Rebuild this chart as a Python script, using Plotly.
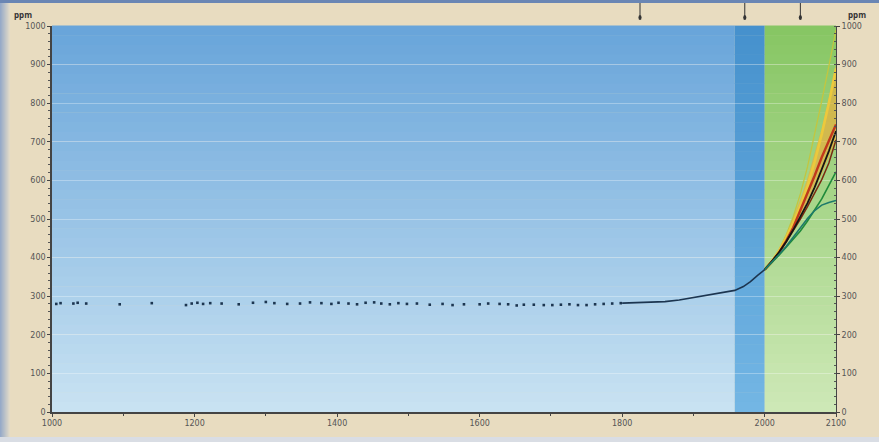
import plotly.graph_objects as go

# ---------------- data ----------------
ice_years = [1006, 1012, 1030, 1036, 1048, 1095, 1140, 1188, 1196, 1204, 1212, 1222, 1238, 1262,
             1282, 1300, 1312, 1330, 1348, 1362, 1378, 1392, 1402, 1416, 1428, 1440, 1452, 1462,
             1474, 1486, 1498, 1512, 1530, 1548, 1562, 1578, 1600, 1612, 1628, 1640, 1652, 1662,
             1676, 1690, 1702, 1714, 1726, 1738, 1750, 1762, 1774, 1786, 1798]
ice_co2 = [280, 282, 281, 283, 281, 279, 282, 277, 281, 283, 280, 282, 281, 279,
           283, 285, 282, 280, 281, 284, 282, 280, 283, 281, 279, 283, 284, 281,
           279, 282, 280, 281, 278, 280, 277, 279, 279, 281, 280, 279, 276, 278,
           278, 277, 277, 278, 279, 277, 277, 279, 280, 281, 282]

hist_years = [1800, 1820, 1840, 1860, 1880, 1900, 1920, 1940, 1958, 1970, 1980, 1990, 2000]
hist_co2 = [282, 283, 284, 286, 290, 296, 303, 310, 315, 325, 338, 354, 369]

scen_years = [2000, 2010, 2020, 2030, 2040, 2050, 2060, 2070, 2080, 2090, 2100]
scen_A1FI = [369, 391, 420, 458, 506, 565, 635, 718, 806, 896, 990]
scen_A2 = [369, 390, 417, 451, 490, 534, 585, 648, 720, 800, 890]
scen_A1B = [369, 389, 412, 443, 478, 522, 565, 612, 660, 705, 745]
scen_IS92a = [369, 390, 414, 441, 472, 505, 541, 582, 628, 676, 728]
scen_A1T = [369, 390, 413, 440, 469, 500, 532, 566, 602, 645, 705]
scen_B2 = [369, 387, 406, 427, 448, 469, 495, 522, 552, 587, 622]
scen_B1 = [369, 388, 408, 429, 453, 478, 501, 522, 536, 543, 548]
band_hi = [369, 392, 422, 460, 504, 552, 606, 668, 735, 815, 900]
band_lo = [369, 388, 410, 437, 466, 500, 537, 575, 615, 660, 705]

y_ticks = [0, 100, 200, 300, 400, 500, 600, 700, 800, 900, 1000]
x_ticks = [1000, 1200, 1400, 1600, 1800, 2000, 2100]
x_tick_labels = ["1000", "1200", "1400", "1600", "1800", "2000", "2100"]
marker_years = [1825, 1972, 2050]

# ---------------- figure ----------------
W, H = 879, 442
L, R, T, B = 52, 43, 26, 30
pw, ph = W - L - R, H - T - B

fig = go.Figure()

# scenario range band
fig.add_trace(go.Scatter(x=scen_years, y=band_lo, mode="lines", line=dict(width=0),
                         showlegend=False, hoverinfo="skip"))
fig.add_trace(go.Scatter(x=scen_years, y=band_hi, mode="lines", line=dict(width=0),
                         fill="tonexty", fillcolor="rgba(232,175,60,0.7)",
                         showlegend=False, hoverinfo="skip"))

scen = [
    (scen_A1FI, "#c2c640", 1.3),
    (scen_A2, "#ecc93c", 2.6),
    (scen_A1B, "#c0381c", 2.4),
    (scen_A1T, "#7a2a10", 1.5),
    (scen_IS92a, "#151515", 1.8),
    (scen_B2, "#1f8a3a", 1.6),
    (scen_B1, "#1d7a6a", 1.6),
]
for ys, c, w in scen:
    fig.add_trace(go.Scatter(x=scen_years, y=ys, mode="lines", line=dict(color=c, width=w),
                             showlegend=False, hoverinfo="skip"))

fig.add_trace(go.Scatter(x=hist_years, y=hist_co2, mode="lines",
                         line=dict(color="#1c3550", width=1.6), showlegend=False))
fig.add_trace(go.Scatter(x=ice_years, y=ice_co2, mode="markers",
                         marker=dict(color="#1c3550", size=2.6, symbol="square"), showlegend=False))
# invisible trace for right axis
fig.add_trace(go.Scatter(x=[1000], y=[0], yaxis="y2", mode="markers",
                         marker=dict(opacity=0), showlegend=False, hoverinfo="skip"))

shapes = []


def lerp(c1, c2, t):
    return "rgb(%d,%d,%d)" % tuple(int(round(a + (b - a) * t)) for a, b in zip(c1, c2))


N = 40
regions = [
    (1000, 1958, (105, 165, 218), (200, 226, 242)),
    (1958, 2000, (70, 145, 205), (115, 182, 228)),
    (2000, 2100, (135, 198, 100), (205, 232, 182)),
]
for x0, x1, ctop, cbot in regions:
    for i in range(N):
        t = i / (N - 1)
        shapes.append(dict(type="rect", xref="x", yref="paper", x0=x0, x1=x1,
                           y0=1 - (i + 1) / N, y1=1 - i / N + 0.001,
                           fillcolor=lerp(ctop, cbot, t), line=dict(width=0), layer="below"))


def px2paper_x(px):
    return (px - L) / pw


def py2paper_y(py):
    return (H - B - py) / ph


for i in range(10):
    shapes.append(dict(type="rect", xref="paper", yref="paper",
                       x0=px2paper_x(i), x1=px2paper_x(i + 1.05), y0=py2paper_y(H), y1=py2paper_y(0),
                       fillcolor=lerp((150, 170, 200), (225, 218, 200), i / 9), line=dict(width=0),
                       layer="below"))
shapes.append(dict(type="rect", xref="paper", yref="paper", x0=px2paper_x(0), x1=px2paper_x(W),
                   y0=py2paper_y(3), y1=py2paper_y(0), fillcolor="#6a86b4", line=dict(width=0)))
shapes.append(dict(type="rect", xref="paper", yref="paper", x0=px2paper_x(0), x1=px2paper_x(W),
                   y0=py2paper_y(H), y1=py2paper_y(437), fillcolor="#d9dde4", line=dict(width=0)))

for yr in marker_years:
    shapes.append(dict(type="line", xref="x", yref="paper", x0=yr, x1=yr,
                       y0=py2paper_y(17), y1=py2paper_y(3), line=dict(color="#333", width=1)))
    shapes.append(dict(type="circle", xref="x", yref="paper", x0=yr - 2.2, x1=yr + 2.2,
                       y0=py2paper_y(20), y1=py2paper_y(15), fillcolor="#333",
                       line=dict(width=0)))

annotations = [
    dict(text="<b>ppm</b>", xref="paper", yref="paper", x=px2paper_x(12), y=py2paper_y(7),
         showarrow=False, xanchor="left", font=dict(size=8, color="#333")),
    dict(text="<b>ppm</b>", xref="paper", yref="paper", x=px2paper_x(846), y=py2paper_y(7),
         showarrow=False, xanchor="left", font=dict(size=8, color="#333")),
]

axis_font = dict(family="DejaVu Sans", size=8, color="#555")
fig.update_layout(
    width=W, height=H, margin=dict(l=L, r=R, t=T, b=B),
    paper_bgcolor="#e8dcc0", plot_bgcolor="rgba(0,0,0,0)",
    shapes=shapes, annotations=annotations,
    xaxis=dict(range=[1000, 2100], tickvals=x_ticks, ticktext=x_tick_labels,
               showgrid=False, zeroline=False, showline=True, linecolor="#444", linewidth=1.5,
               ticks="outside", ticklen=3, tickcolor="#444", tickfont=axis_font,
               minor=dict(tickvals=[1100, 1300, 1500, 1700, 1900], ticks="outside", ticklen=2,
                          tickcolor="#444")),
    yaxis=dict(range=[0, 1000], tickvals=y_ticks, showgrid=True,
               gridcolor="rgba(255,255,255,0.3)", gridwidth=1, zeroline=False,
               showline=True, linecolor="#444", linewidth=1.5, ticks="outside", ticklen=3,
               tickcolor="#444", tickfont=axis_font,
               minor=dict(dtick=20, ticks="outside", ticklen=2, tickcolor="#555")),
    yaxis2=dict(range=[0, 1000], tickvals=y_ticks, overlaying="y", side="right",
                showgrid=False, zeroline=False, showline=True, linecolor="#444", linewidth=1,
                ticks="outside", ticklen=3, tickcolor="#444", tickfont=axis_font,
                minor=dict(dtick=20, ticks="inside", ticklen=2, tickcolor="#555")),
)

fig.write_html("out.html")
